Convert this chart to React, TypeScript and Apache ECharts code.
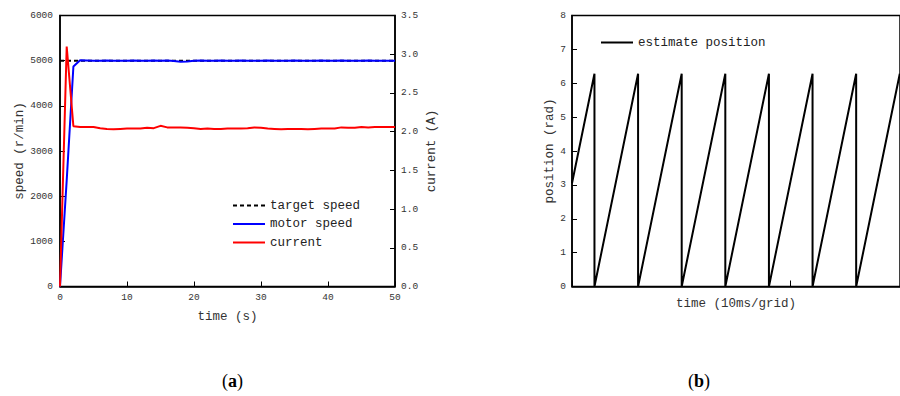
import React, { useEffect, useRef } from "react";
import * as echarts from "echarts";

// ---- (a) speed / current vs time ----
const timeS = [0,1,2,3,4,5,6,7,8,9,10,11,12,13,14,15,16,17,18,19,20,21,22,23,24,25,26,27,28,29,30,31,32,33,34,35,36,37,38,39,40,41,42,43,44,45,46,47,48,49,50];
const targetSpeed = [5000,5000,5000,5000,5000,5000,5000,5000,5000,5000,5000,5000,5000,5000,5000,5000,5000,5000,5000,5000,5000,5000,5000,5000,5000,5000,5000,5000,5000,5000,5000,5000,5000,5000,5000,5000,5000,5000,5000,5000,5000,5000,5000,5000,5000,5000,5000,5000,5000,5000,5000];
const motorSpeed = [0,2350,4870,5010,5005,5000,5000,5002,5000,5000,5000,5003,5000,5000,5002,5000,5003,4995,4978,4982,5000,5002,5000,5000,5002,5000,5000,5003,5000,5000,5000,5002,5000,5000,5000,5002,5000,5000,5000,5003,5000,5000,5002,5000,5000,5000,5002,5000,5000,5000,5000];
const current = [0,3.1,2.07,2.06,2.06,2.06,2.045,2.035,2.03,2.035,2.04,2.04,2.04,2.05,2.045,2.075,2.055,2.055,2.055,2.05,2.045,2.035,2.04,2.035,2.035,2.04,2.04,2.04,2.045,2.055,2.05,2.04,2.035,2.03,2.035,2.035,2.035,2.03,2.035,2.04,2.04,2.04,2.055,2.05,2.05,2.06,2.055,2.06,2.06,2.06,2.06];

// ---- (b) estimated position (sawtooth) ----
const posTime = [0,0.515,0.515,1.515,1.515,2.515,2.515,3.515,3.515,4.515,4.515,5.515,5.515,6.515,6.515,7.515];
const posValue = [3.05,6.28,0,6.28,0,6.28,0,6.28,0,6.28,0,6.28,0,6.28,0,6.28];
const posTickInterval = 5;

const FONT = "Liberation Mono";
const LABEL_COLOR = "#333";

export default function App() {
  const ref = useRef<HTMLDivElement>(null);
  useEffect(() => {
    if (!ref.current) return;
    const chart = echarts.init(ref.current, undefined, { renderer: "svg" });
    const axisLine = { show: true, lineStyle: { color: "#000", width: 1.5 } };
    const axisTick = { show: true, inside: true, length: 5, lineStyle: { color: "#000", width: 1 } };
    const axisLabel = { color: LABEL_COLOR, fontFamily: FONT, fontSize: 9.5, formatter: (v: number) => String(v) };
    const nameStyle = { color: LABEL_COLOR, fontFamily: FONT, fontSize: 12.5 };
    const legendText = { color: "#222", fontFamily: FONT, fontSize: 12.5 };
    chart.setOption({
      animation: false,
      backgroundColor: "#fff",
      grid: [
        { left: 60, top: 15.5, width: 335, height: 271, show: true, borderColor: "#000", borderWidth: 1.5, backgroundColor: "transparent" },
        { left: 572, top: 15.5, width: 336, height: 271, show: true, borderColor: "#000", borderWidth: 1.5, backgroundColor: "transparent" },
      ],
      xAxis: [
        {
          type: "value", gridIndex: 0, min: 0, max: 50, interval: 10,
          axisLine, axisTick, axisLabel: { ...axisLabel, margin: 6 }, splitLine: { show: false },
          name: "time (s)", nameLocation: "middle", nameGap: 24, nameTextStyle: nameStyle,
        },
        {
          type: "value", gridIndex: 1, min: 0, max: 7.52, interval: posTickInterval,
          axisLine, axisTick: { ...axisTick, length: 6 }, axisLabel: { show: false }, splitLine: { show: false },
          name: "time (10ms/grid)", nameLocation: "middle", nameGap: 11, nameTextStyle: nameStyle,
        },
      ],
      yAxis: [
        {
          type: "value", gridIndex: 0, min: 0, max: 6000, interval: 1000, position: "left",
          axisLine, axisTick, axisLabel: { ...axisLabel, margin: 7 }, splitLine: { show: false },
          name: "speed (r/min)", nameLocation: "middle", nameRotate: 90, nameGap: 23, nameTextStyle: nameStyle,
        },
        {
          type: "value", gridIndex: 0, min: 0, max: 3.5, interval: 0.5, position: "right",
          axisLine, axisTick, axisLabel: { ...axisLabel, margin: 6, formatter: (v: number) => v.toFixed(1) }, splitLine: { show: false },
          name: "current (A)", nameLocation: "middle", nameRotate: 90, nameGap: 30, nameTextStyle: nameStyle,
        },
        {
          type: "value", gridIndex: 1, min: 0, max: 8, interval: 1,
          axisLine, axisTick, axisLabel: { ...axisLabel, margin: 6 }, splitLine: { show: false },
          name: "position (rad)", nameLocation: "middle", nameRotate: 90, nameGap: 11, nameTextStyle: nameStyle,
        },
      ],
      legend: [
        {
          orient: "vertical", left: 227, top: 194, itemWidth: 32, itemHeight: 12, itemGap: 5.5,
          data: ["target speed", "motor speed", "current"],
          itemStyle: { opacity: 0 },
          textStyle: legendText,
        },
        {
          orient: "vertical", left: 595, top: 31, itemWidth: 32, itemHeight: 12,
          data: ["estimate position"],
          itemStyle: { opacity: 0 },
          textStyle: legendText,
        },
      ],
      series: [
        {
          name: "target speed", type: "line", xAxisIndex: 0, yAxisIndex: 0, symbol: "none",
          data: timeS.map((t, i) => [t, targetSpeed[i]]),
          lineStyle: { color: "#000", width: 2, type: [4, 3] }, itemStyle: { color: "#000" },
        },
        {
          name: "motor speed", type: "line", xAxisIndex: 0, yAxisIndex: 0, symbol: "none",
          data: timeS.map((t, i) => [t, motorSpeed[i]]),
          lineStyle: { color: "#0000ff", width: 2 }, itemStyle: { color: "#0000ff" },
        },
        {
          name: "current", type: "line", xAxisIndex: 0, yAxisIndex: 1, symbol: "none",
          data: timeS.map((t, i) => [t, current[i]]),
          lineStyle: { color: "#ff0000", width: 2 }, itemStyle: { color: "#ff0000" },
        },
        {
          name: "estimate position", type: "line", xAxisIndex: 1, yAxisIndex: 2, symbol: "none",
          data: posTime.map((t, i) => [t, posValue[i]]),
          lineStyle: { color: "#000", width: 2 }, itemStyle: { color: "#000" },
        },
      ],
      graphic: [
        {
          type: "text", left: 222, top: 372,
          style: {
            text: "({a|a})", fontFamily: "Liberation Serif", fontSize: 18, fill: "#000",
            rich: { a: { fontFamily: "Liberation Serif", fontSize: 18, fontWeight: "bold", fill: "#000" } },
          },
        },
        {
          type: "text", left: 688, top: 372,
          style: {
            text: "({b|b})", fontFamily: "Liberation Serif", fontSize: 18, fill: "#000",
            rich: { b: { fontFamily: "Liberation Serif", fontSize: 18, fontWeight: "bold", fill: "#000" } },
          },
        },
      ],
    });
    return () => chart.dispose();
  }, []);
  return <div ref={ref} style={{ position: "fixed", left: 0, top: 0, width: 900, height: 396, background: "#fff" }} />;
}
